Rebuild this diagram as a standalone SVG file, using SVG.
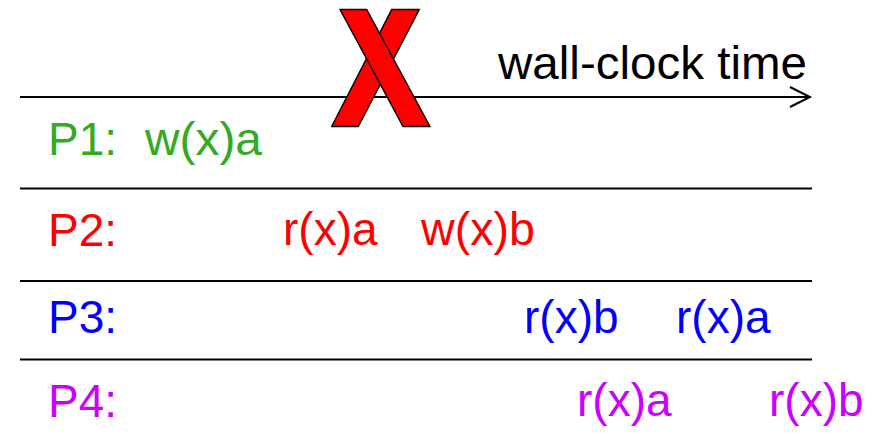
<svg xmlns="http://www.w3.org/2000/svg" width="871" height="434" viewBox="0 0 871 434">
<style>
text{font-family:"Liberation Sans",Arial,sans-serif;font-size:46px}
.rule{stroke:#000;stroke-width:2;fill:none}
.p1{fill:#33aa22}.p2{fill:#ff0000}.p3{fill:#0000ff}.p4{fill:#cc00ff}
.x{fill:#ff0000;stroke:#000;stroke-width:1.5;stroke-linejoin:round}
</style>
<g id="connectors">
<line class="rule" x1="20" y1="97" x2="810" y2="97"/>
<polyline class="rule" stroke-width="2.5" points="790,87 810,97 790,107"/>
<line class="rule" x1="20" y1="188.5" x2="812" y2="188.5"/>
<line class="rule" x1="20" y1="281" x2="812" y2="281"/>
<line class="rule" x1="20" y1="359.5" x2="812" y2="359.5"/>
</g>
<g id="time-label"><text x="498" y="79" textLength="309" lengthAdjust="spacingAndGlyphs">wall-clock time</text></g>
<g id="cross">
<polygon class="x" points="391.7,9.5 419.3,9.5 358.3,126.5 331.7,126.5"/>
<polygon class="x" points="340,9.5 366.7,9.5 430,126.5 403,126.5"/>
</g>
<g id="P1" class="p1">
<text x="48" y="155">P1:</text>
<text x="145" y="155" textLength="117" lengthAdjust="spacingAndGlyphs">w(x)a</text>
</g>
<g id="P2" class="p2">
<text x="48" y="246">P2:</text>
<text x="283" y="245">r(x)a</text>
<text x="421" y="245" textLength="114" lengthAdjust="spacingAndGlyphs">w(x)b</text>
</g>
<g id="P3" class="p3">
<text x="48" y="333">P3:</text>
<text x="524" y="333">r(x)b</text>
<text x="676" y="333">r(x)a</text>
</g>
<g id="P4" class="p4">
<text x="48" y="417">P4:</text>
<text x="577" y="416">r(x)a</text>
<text x="769" y="416">r(x)b</text>
</g>
</svg>
